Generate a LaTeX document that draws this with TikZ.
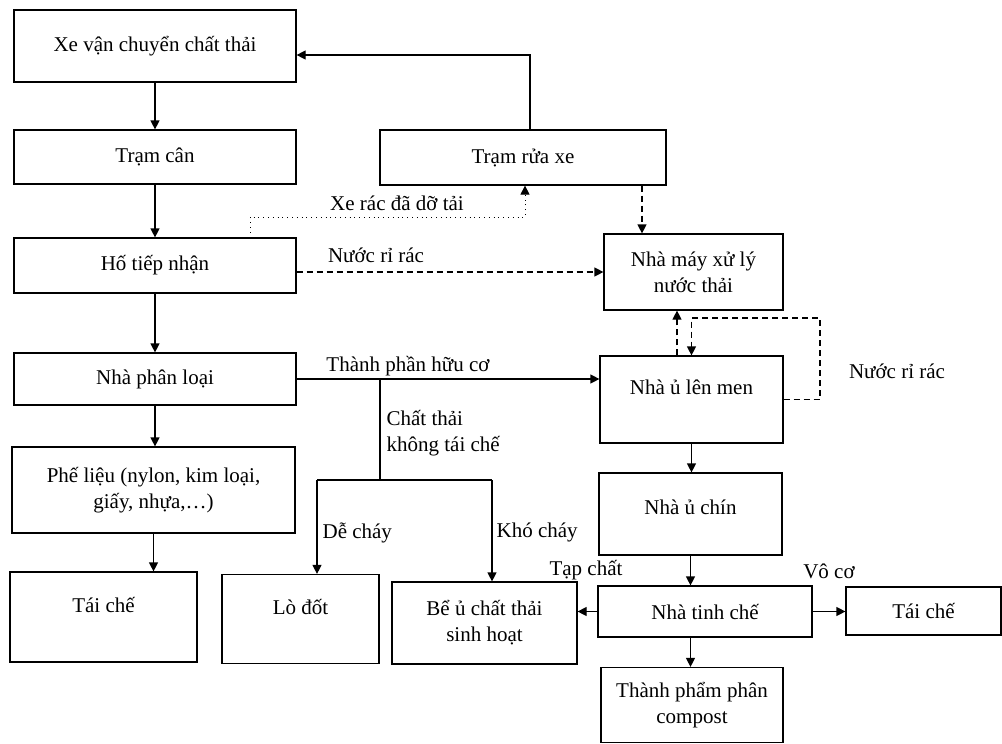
\documentclass[tikz,border=0pt]{standalone}
\usepackage{fontspec}
\setmainfont{Liberation Serif}
\usetikzlibrary{arrows.meta}

\tikzset{
    hop/.style={draw, line width=0.6pt, align=center, inner sep=0pt, font=\fontsize{10.5}{13}\selectfont}, % process box
    nhan/.style={inner sep=0pt, align=left, font=\fontsize{10.5}{13}\selectfont}, % flow label
    muiten/.style={-{Triangle[length=4.5pt,width=4.5pt]}}, % arrow head
    netdut/.style={dash pattern=on 3pt off 2pt}, % leachate lines
    chen/.style={text depth=#1} % push the text upwards in the box
}

\begin{document}
\begin{tikzpicture}[x=0.5pt, y=-0.5pt, line width=0.6pt] % 1 unit = 1 pixel of the layout
    % Page frame
    \useasboundingbox (0,0) rectangle (1002,744);

    % Left column
    \node[hop, minimum width=141pt, minimum height=36pt] (xe) at (155,46) {Xe vận chuyển chất thải};
    \node[hop, minimum width=141pt, minimum height=27pt] (tramcan) at (155,157) {Trạm cân};
    \node[hop, minimum width=141pt, minimum height=27.5pt] (ho) at (155,265.5) {Hố tiếp nhận};
    \node[hop, minimum width=141pt, minimum height=26pt] (phanloai) at (155,379) {Nhà phân loại};
    \node[hop, minimum width=141.5pt, minimum height=43pt] (phelieu) at (153.5,490) {Phế liệu (nylon, kim loại,\\ giấy, nhựa,…)};
    \node[hop, minimum width=93.5pt, minimum height=45pt, chen=12pt] (taiche) at (103.5,617) {Tái chế};

    % Non-recyclable branch
    \node[hop, minimum width=78.5pt, minimum height=44.5pt, chen=12pt] (lodot) at (300.5,619) {Lò đốt};
    \node[hop, minimum width=92.5pt, minimum height=41pt] (beu) at (484.5,623) {Bể ủ chất thải\\ sinh hoạt};

    % Right column
    \node[hop, minimum width=143pt, minimum height=27.5pt] (tramrua) at (523,157.5) {Trạm rửa xe};
    \node[hop, minimum width=89.5pt, minimum height=38pt] (nhamay) at (693.5,272) {Nhà máy xử lý\\ nước thải};
    \node[hop, minimum width=91.5pt, minimum height=43.5pt, chen=12pt] (lenmen) at (691.5,399.5) {Nhà ủ lên men};
    \node[hop, minimum width=91.5pt, minimum height=41pt, chen=7pt] (uchin) at (690.5,514) {Nhà ủ chín};
    \node[hop, minimum width=107pt, minimum height=25.5pt] (tinhche) at (705,611.5) {Nhà tinh chế};
    \node[hop, minimum width=77.5pt, minimum height=24pt] (taiche2) at (923.5,611) {Tái chế};
    \node[hop, minimum width=91pt, minimum height=37.5pt] (compost) at (692,705) {Thành phẩm phân\\ compost};

    % Main line
    \draw[muiten] (xe) -- (tramcan);
    \draw[muiten] (tramcan) -- (ho);
    \draw[muiten] (ho) -- (phanloai);
    \draw[muiten] (phanloai.south) -- (phanloai.south |- phelieu.north);
    \draw[muiten] (phelieu.south) -- (phelieu.south |- taiche.north);

    % Truck back to the start
    \draw[muiten] ([xshift=3.5pt]tramrua.north) |- ([yshift=-4.5pt]xe.east);
    \coordinate (gapxe) at (525,217);
    \draw[muiten, dotted, line width=0.4pt] ([xshift=47.5pt]ho.north) |- (gapxe) -- (gapxe |- tramrua.south);
    \node[nhan] (xerac) at (397,203) {Xe rác đã dỡ tải};

    % Leachate
    \draw[muiten, netdut] ([xshift=59.5pt]tramrua.south) -- ([xshift=59.5pt]tramrua.south |- nhamay.north);
    \draw[muiten, netdut] (ho.east |- nhamay.west) -- (nhamay.west);
    \node[nhan] (nuoc1) at (376,255) {Nước rỉ rác};
    \draw[muiten, netdut] ([xshift=-7.25pt]lenmen.north) -- ([xshift=-7.25pt]lenmen.north |- nhamay.south);
    \coordinate (vong) at (820,318);
    \draw[muiten, netdut] (lenmen.east) -| (vong) -| (lenmen.north);
    \node[nhan] (nuoc2) at (897,371) {Nước rỉ rác};

    % Sorting outputs
    \draw[muiten] (phanloai.east) -- (phanloai.east -| lenmen.west);
    \node[nhan] (huuco) at (408,366) {Thành phần hữu cơ};
    \coordinate (tach) at (380,380);
    \coordinate (nhanh) at (380,480);
    \coordinate (trai) at (317,480);
    \coordinate (phai) at (492,480);
    \draw (tach) -- (nhanh);
    \draw (trai) -- (phai);
    \draw[muiten] (trai) -- (trai |- lodot.north);
    \draw[muiten] (phai) -- (phai |- beu.north);
    \node[nhan, anchor=north west] (khongtc) at (386,410) {Chất thải\\ không tái chế};
    \node[nhan, anchor=west] (dechay) at (322,533) {Dễ cháy};
    \node[nhan, anchor=west] (khochay) at (496,532) {Khó cháy};

    % Composting line
    \draw[muiten] (lenmen.south) -- (lenmen.south |- uchin.north);
    \draw[muiten] (uchin.south) -- (uchin.south |- tinhche.north);
    \draw[muiten] (uchin.south |- tinhche.south) -- (uchin.south |- compost.north);
    \draw[muiten] (tinhche.west) -- (tinhche.west -| beu.east);
    \node[nhan] (tapchat) at (586,570) {Tạp chất};
    \draw[muiten] (tinhche.east) -- (tinhche.east -| taiche2.west);
    \node[nhan] (voco) at (829,571) {Vô cơ};
\end{tikzpicture}
\end{document}
